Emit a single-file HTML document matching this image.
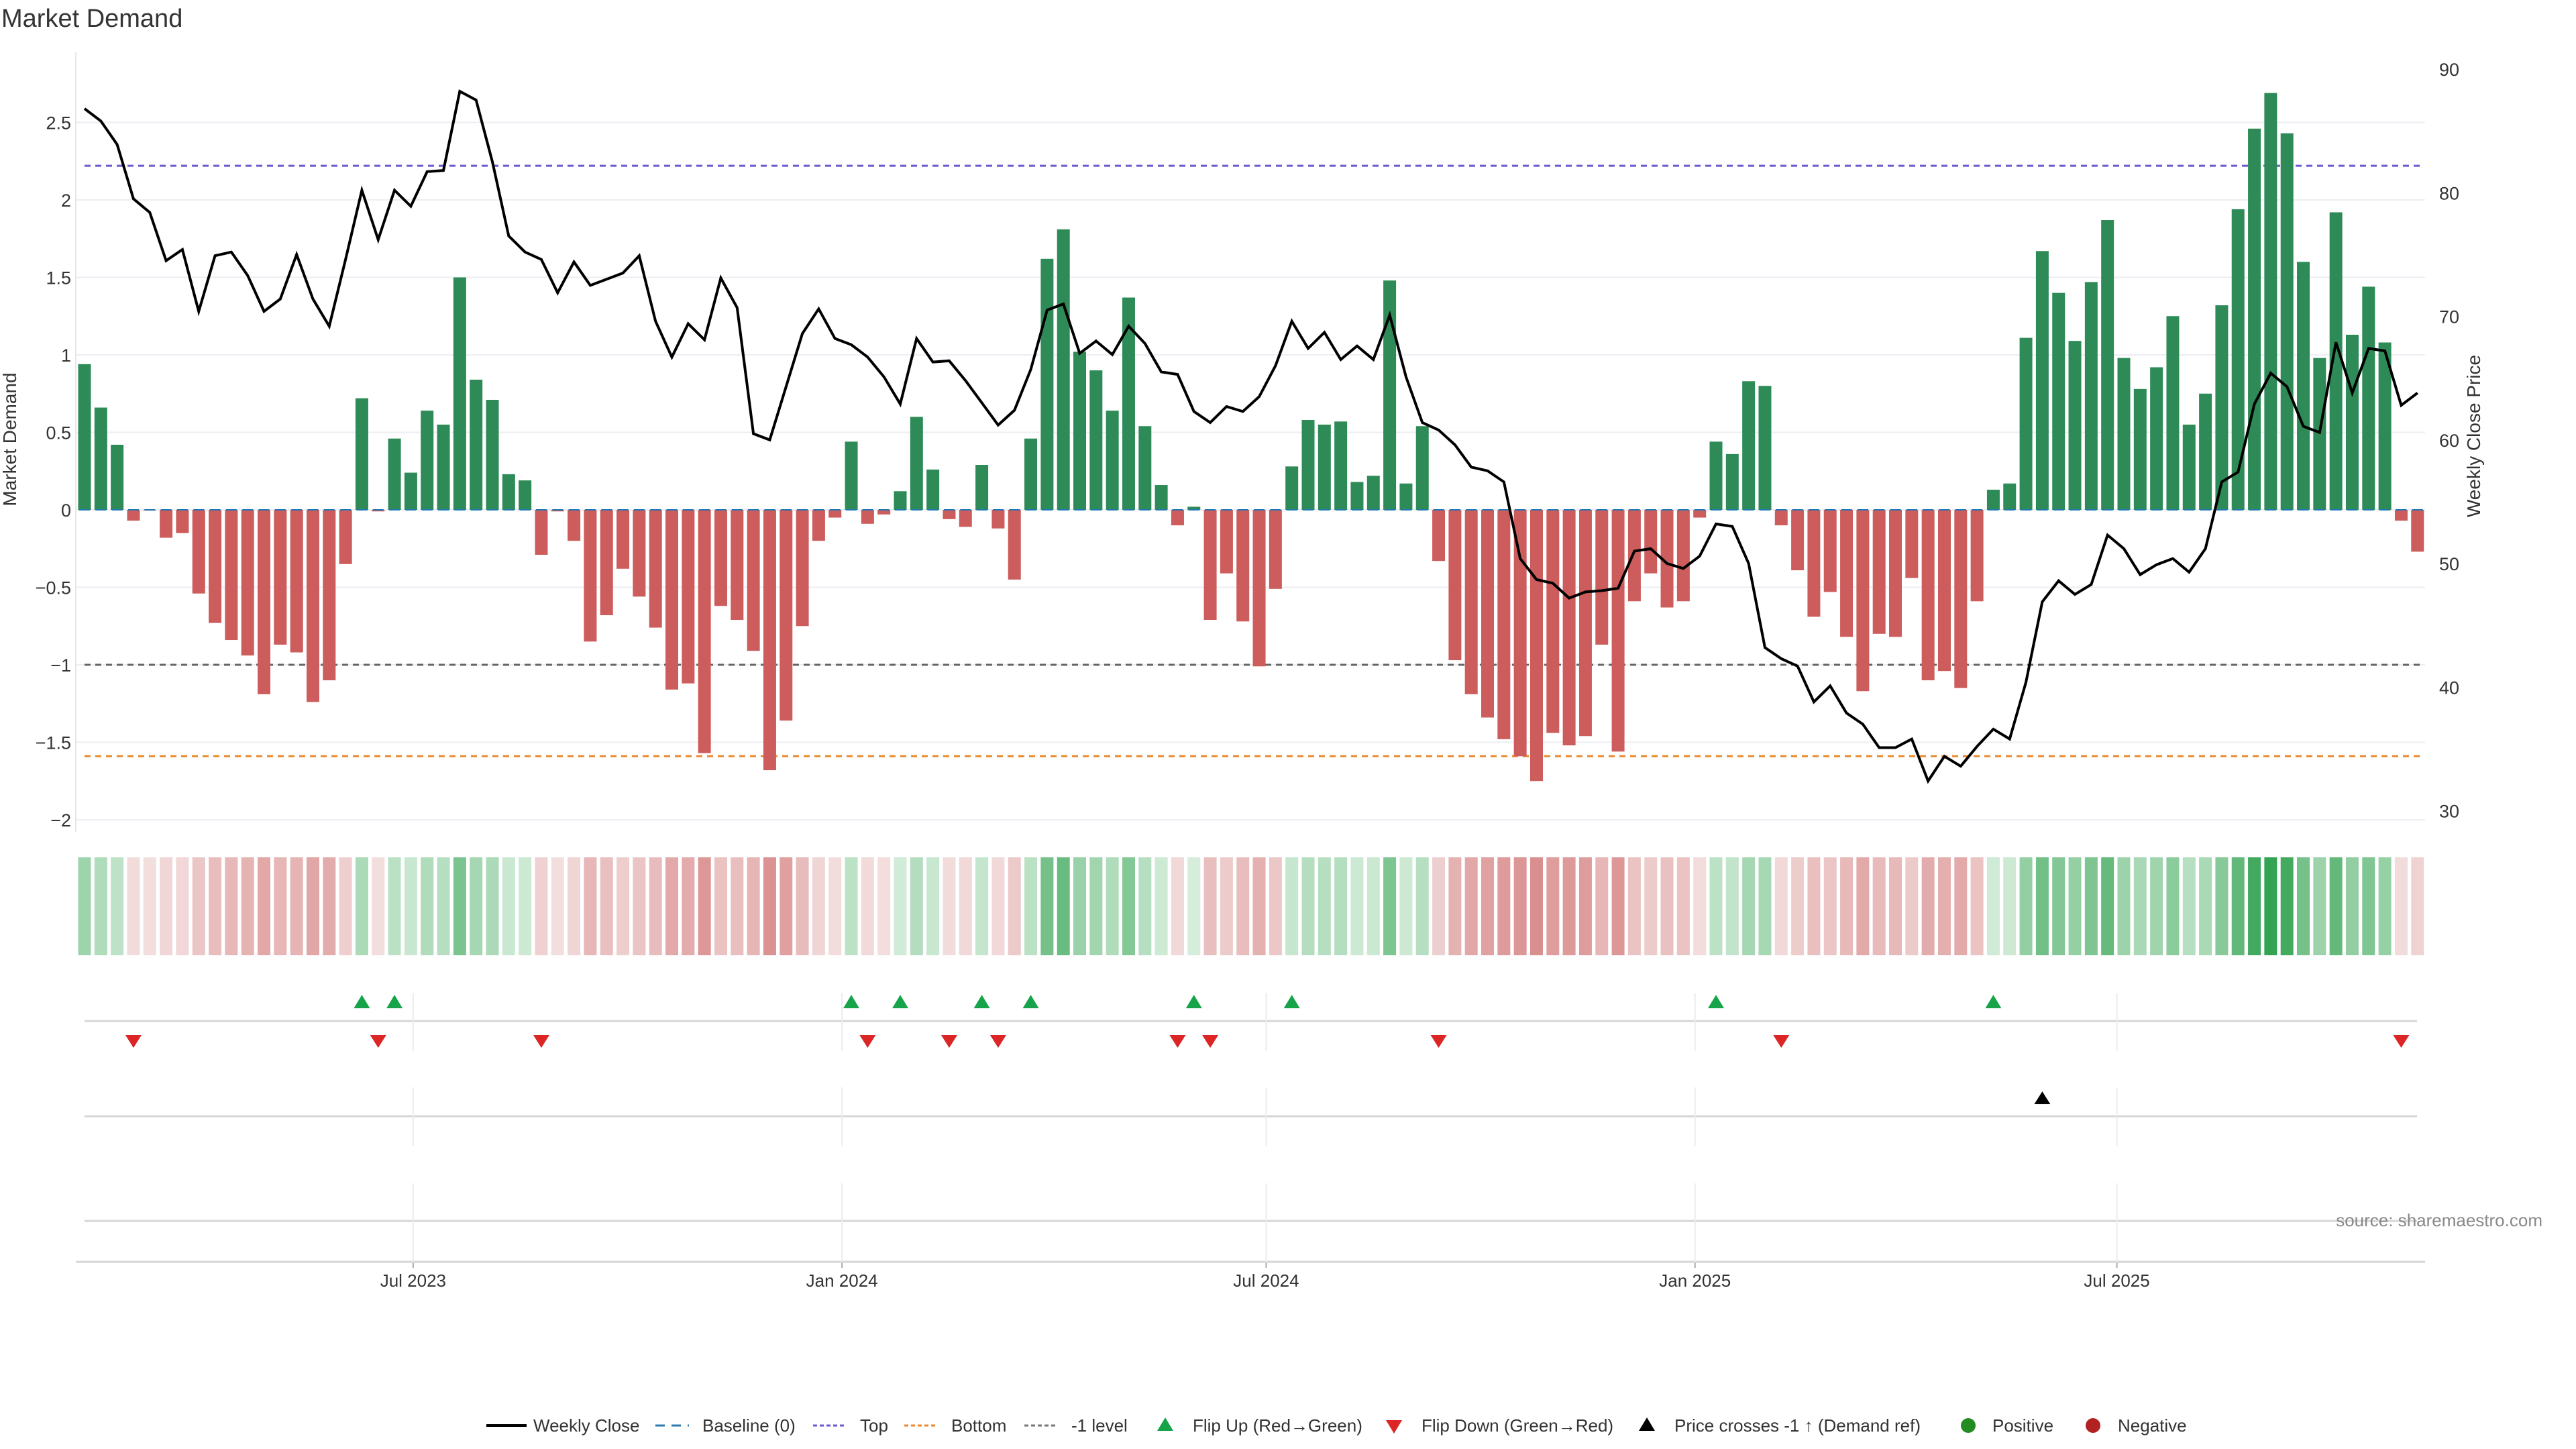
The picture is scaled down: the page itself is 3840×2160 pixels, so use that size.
<!DOCTYPE html>
<html><head><meta charset="utf-8"><title>Market Demand</title>
<style>
html,body{margin:0;padding:0;background:#fff;}
svg{display:block;font-family:"Liberation Sans","DejaVu Sans",sans-serif;}
</style></head>
<body>
<svg id="chart" xmlns="http://www.w3.org/2000/svg" width="3840" height="2160" viewBox="0 0 3840 2160">
<rect width="3840" height="2160" fill="#fff"/>
<text x="2" y="40" font-size="38" fill="#333">Market Demand</text>
<g id="grid"></g><g id="levels"></g><g id="bars"></g><g id="line"></g><g id="axes"></g>
<g id="heat"></g><g id="flips"></g><g id="cross"></g><g id="legend"></g>
<text transform="translate(24,655) rotate(-90)" text-anchor="middle" font-size="28" fill="#333">Market Demand</text>
<text transform="translate(3697,650) rotate(-90)" text-anchor="middle" font-size="28" fill="#333">Weekly Close Price</text>
<text x="3790" y="1828" text-anchor="end" font-size="26" fill="#888">source: sharemaestro.com</text>
</svg>
<script>
const demand = [0.94,0.66,0.42,-0.07,-0.005,-0.18,-0.15,-0.54,-0.73,-0.84,-0.94,-1.19,-0.87,-0.92,-1.24,-1.10,-0.35,0.72,-0.01,0.46,0.24,0.64,0.55,1.50,0.84,0.71,0.23,0.19,-0.29,-0.01,-0.20,-0.85,-0.68,-0.38,-0.56,-0.76,-1.16,-1.12,-1.57,-0.62,-0.71,-0.91,-1.68,-1.36,-0.75,-0.20,-0.05,0.44,-0.09,-0.03,0.12,0.60,0.26,-0.06,-0.11,0.29,-0.12,-0.45,0.46,1.62,1.81,1.02,0.90,0.64,1.37,0.54,0.16,-0.10,0.02,-0.71,-0.41,-0.72,-1.01,-0.51,0.28,0.58,0.55,0.57,0.18,0.22,1.48,0.17,0.54,-0.33,-0.97,-1.19,-1.34,-1.48,-1.59,-1.75,-1.44,-1.52,-1.46,-0.87,-1.56,-0.59,-0.41,-0.63,-0.59,-0.05,0.44,0.36,0.83,0.80,-0.10,-0.39,-0.69,-0.53,-0.82,-1.17,-0.80,-0.82,-0.44,-1.10,-1.04,-1.15,-0.59,0.13,0.17,1.11,1.67,1.40,1.09,1.47,1.87,0.98,0.78,0.92,1.25,0.55,0.75,1.32,1.94,2.46,2.69,2.43,1.60,0.98,1.92,1.13,1.44,1.08,-0.07,-0.27];
const price = [86.8,85.8,83.9,79.5,78.4,74.5,75.4,70.4,74.9,75.2,73.3,70.4,71.4,75.0,71.4,69.2,74.6,80.2,76.2,80.2,78.9,81.7,81.8,88.2,87.5,82.5,76.5,75.2,74.6,71.9,74.4,72.5,73.0,73.5,74.9,69.6,66.7,69.4,68.1,73.1,70.7,60.5,60.0,64.3,68.6,70.6,68.2,67.7,66.7,65.1,62.9,68.2,66.3,66.4,64.8,63.0,61.2,62.4,65.7,70.5,71.0,67.0,68.0,66.9,69.2,67.8,65.5,65.3,62.3,61.4,62.7,62.3,63.5,66.0,69.6,67.4,68.7,66.5,67.6,66.5,70.1,65.1,61.4,60.8,59.6,57.8,57.5,56.6,50.4,48.7,48.4,47.2,47.7,47.8,48.0,51.0,51.2,50.0,49.6,50.6,53.2,53.0,50.0,43.2,42.3,41.7,38.8,40.1,37.9,37.0,35.1,35.1,35.8,32.4,34.4,33.6,35.2,36.6,35.8,40.4,46.9,48.6,47.5,48.3,52.3,51.2,49.1,49.9,50.4,49.3,51.2,56.6,57.4,62.9,65.4,64.3,61.1,60.6,67.9,63.8,67.4,67.2,62.8,63.8];
const yTicks = [2.5,2,1.5,1,0.5,0,-0.5,-1,-1.5,-2];
const priceTicks = [30,40,50,60,70,80,90];
const topLevel = 2.22;
const bottomLevel = -1.59;
const minusLevel = -1;
const xTickLabels = ["Jul 2023","Jan 2024","Jul 2024","Jan 2025","Jul 2025"];
const xTickDates = ["2023-07-01","2024-01-01","2024-07-01","2025-01-01","2025-07-01"];
const firstWeek = "2023-02-10";

const NS = "http://www.w3.org/2000/svg";
const X0 = 126, PITCH = 24.32, BW = 19;
const PL = 113, PR = 3615;
const xIdx = i => X0 + i * PITCH;
const xDate = d => X0 + ((new Date(d) - new Date(firstWeek)) / 86400000 / 7) * PITCH;
const yD = v => 760 - v * 231;
const yP = p => 103 + (90 - p) * 18.425;
function mk(tag, attrs, parent, txt) {
  const e = document.createElementNS(NS, tag);
  for (const k in attrs) e.setAttribute(k, attrs[k]);
  if (txt !== undefined) e.textContent = txt;
  document.getElementById(parent).appendChild(e);
  return e;
}
let e;
yTicks.forEach(t => {
  e = mk('line', {x1: PL, x2: PR, y1: yD(t), y2: yD(t), stroke: '#eceef3', 'stroke-width': 2}, 'grid');
  
  
  e = mk('text', {x: 106, y: yD(t) + 10, 'text-anchor': 'end', 'font-size': 27, fill: '#333'}, 'axes', t < 0 ? '\u2212' + Math.abs(t) : String(t));
  
  
});
priceTicks.forEach(p => {
  e = mk('text', {x: 3636, y: yP(p) + 10, 'font-size': 27, fill: '#333'}, 'axes', String(p));
  
  
});
e = mk('line', {x1: PL, x2: PL, y1: 78, y2: 1240, stroke: '#e8e8ec', 'stroke-width': 2}, 'axes');


[[topLevel, '#6a5acd', 'top-level-line'], [bottomLevel, '#e8892a', 'bottom-level-line'], [minusLevel, '#666', 'minus-one-level-line']].forEach(l => {
  e = mk('line', {x1: X0, x2: xIdx(demand.length - 1) + 10, y1: yD(l[0]), y2: yD(l[0]), stroke: l[1], 'stroke-width': 3, 'stroke-dasharray': '9 7'}, 'levels');
  
  
});
demand.forEach((v, i) => {
  const y0 = yD(0), y1 = yD(v);
  e = mk('rect', {x: xIdx(i) - BW / 2, y: Math.min(y0, y1), width: BW, height: Math.max(1, Math.abs(y1 - y0)), fill: v >= 0 ? '#2e8b57' : '#cd5c5c'}, 'bars');
  
  
  e = mk('line', {x1: xIdx(i) - 8, x2: xIdx(i) + 8, y1: y0, y2: y0, stroke: '#1f77b4', 'stroke-width': 2}, 'bars');
  
  
});
e = mk('polyline', {points: price.map((p, i) => xIdx(i) + ',' + yP(p)).join(' '), fill: 'none', stroke: '#000', 'stroke-width': 4, 'stroke-linejoin': 'miter'}, 'line');


const maxAbs = Math.max(...demand.map(Math.abs));
demand.forEach((v, i) => {
  const t = Math.abs(v) / maxAbs;
  const c = v >= 0 ? [215 + (52 - 215) * t, 238 + (163 - 238) * t, 221 + (82 - 221) * t] : [243 + (205 - 243) * t, 222 + (100 - 222) * t, 222 + (100 - 222) * t];
  e = mk('rect', {x: xIdx(i) - BW / 2, y: 1278, width: BW, height: 146, fill: 'rgb(' + c.map(Math.round).join(',') + ')'}, 'heat');
  
  
});
[1522, 1664, 1820].forEach((y, k) => {
  e = mk('line', {x1: X0, x2: 3603, y1: y, y2: y, stroke: '#d6d6d6', 'stroke-width': 3}, 'flips');
  
  
});
xTickDates.forEach((d, k) => {
  const x = xDate(d);
  [[1480, 1567], [1621, 1708], [1764, 1881]].forEach(s => {
    e = mk('line', {x1: x, x2: x, y1: s[0], y2: s[1], stroke: '#ececec', 'stroke-width': 2}, 'flips');
    
    
  });
  e = mk('line', {x1: x, x2: x, y1: 1881, y2: 1890, stroke: '#aaa', 'stroke-width': 2}, 'axes');
  
  
  e = mk('text', {x: x, y: 1918, 'text-anchor': 'middle', 'font-size': 26, fill: '#333'}, 'axes', xTickLabels[k]);
  
  
});
e = mk('line', {x1: PL, x2: PR, y1: 1881, y2: 1881, stroke: '#d6d6d6', 'stroke-width': 3}, 'axes');


for (let i = 1; i < demand.length; i++) {
  const x = xIdx(i);
  if (demand[i - 1] < 0 && demand[i] >= 0) {
    e = mk('path', {d: `M${x - 12},1503 L${x + 12},1503 L${x},1483 Z`, fill: '#16a34a'}, 'flips');
    
    
  } else if (demand[i - 1] >= 0 && demand[i] < 0) {
    e = mk('path', {d: `M${x - 12},1543 L${x + 12},1543 L${x},1562 Z`, fill: '#dc2626'}, 'flips');
    
    
  }
}
const thr = 90 - (yD(minusLevel) - 103) / 18.425;
for (let i = 1; i < price.length; i++) {
  if (price[i - 1] < thr && price[i] >= thr) {
    const x = xIdx(i);
    e = mk('path', {d: `M${x - 12},1646 L${x + 12},1646 L${x},1627 Z`, fill: '#000'}, 'cross');
    
    
  }
}
const LY = 2125;
function lg(name) { const g = mk('g', {}, 'legend');   return g; }
function add(g, tag, attrs, txt) { const el = document.createElementNS(NS, tag); for (const k in attrs) el.setAttribute(k, attrs[k]); if (txt !== undefined) el.textContent = txt; g.appendChild(el); return el; }
let g;
g = lg('legend-weekly-close'); add(g, 'line', {x1: 725, x2: 785, y1: LY, y2: LY, stroke: '#000', 'stroke-width': 4}); add(g, 'text', {x: 795, y: LY + 9, 'font-size': 26, fill: '#333'}, 'Weekly Close');
g = lg('legend-baseline'); add(g, 'line', {x1: 977, x2: 1027, y1: LY, y2: LY, stroke: '#2a7ab0', 'stroke-width': 3, 'stroke-dasharray': '14 10'}); add(g, 'text', {x: 1047, y: LY + 9, 'font-size': 26, fill: '#333'}, 'Baseline (0)');
g = lg('legend-top'); add(g, 'line', {x1: 1212, x2: 1262, y1: LY, y2: LY, stroke: '#6a5acd', 'stroke-width': 3, 'stroke-dasharray': '6 4'}); add(g, 'text', {x: 1282, y: LY + 9, 'font-size': 26, fill: '#333'}, 'Top');
g = lg('legend-bottom'); add(g, 'line', {x1: 1348, x2: 1398, y1: LY, y2: LY, stroke: '#e8892a', 'stroke-width': 3, 'stroke-dasharray': '6 4'}); add(g, 'text', {x: 1418, y: LY + 9, 'font-size': 26, fill: '#333'}, 'Bottom');
g = lg('legend-minus-one'); add(g, 'line', {x1: 1527, x2: 1577, y1: LY, y2: LY, stroke: '#777', 'stroke-width': 3, 'stroke-dasharray': '6 4'}); add(g, 'text', {x: 1597, y: LY + 9, 'font-size': 26, fill: '#333'}, '-1 level');
g = lg('legend-flip-up'); add(g, 'path', {d: `M1725,${LY + 8} L1749,${LY + 8} L1737,${LY - 12} Z`, fill: '#16a34a'}); add(g, 'text', {x: 1778, y: LY + 9, 'font-size': 26, fill: '#333'}, 'Flip Up (Red\u2192Green)');
g = lg('legend-flip-down'); add(g, 'path', {d: `M2066,${LY - 8} L2090,${LY - 8} L2078,${LY + 12} Z`, fill: '#dc2626'}); add(g, 'text', {x: 2119, y: LY + 9, 'font-size': 26, fill: '#333'}, 'Flip Down (Green\u2192Red)');
g = lg('legend-price-cross'); add(g, 'path', {d: `M2443,${LY + 8} L2467,${LY + 8} L2455,${LY - 12} Z`, fill: '#000'}); add(g, 'text', {x: 2496, y: LY + 9, 'font-size': 26, fill: '#333'}, 'Price crosses -1 \u2191 (Demand ref)');
g = lg('legend-positive'); add(g, 'circle', {cx: 2934, cy: LY, r: 11, fill: '#228b22'}); add(g, 'text', {x: 2970, y: LY + 9, 'font-size': 26, fill: '#333'}, 'Positive');
g = lg('legend-negative'); add(g, 'circle', {cx: 3120, cy: LY, r: 11, fill: '#b22222'}); add(g, 'text', {x: 3157, y: LY + 9, 'font-size': 26, fill: '#333'}, 'Negative');
</script>
</body></html>
